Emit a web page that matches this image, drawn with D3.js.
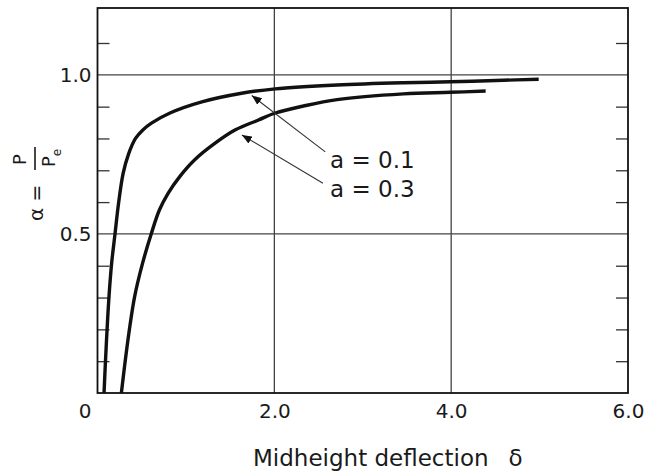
<!DOCTYPE html>
<html>
<head>
<meta charset="utf-8">
<script src="https://cdn.jsdelivr.net/npm/d3@7"></script>
<style>
  body { margin: 0; background: #fff; }
  text { font-family: "DejaVu Sans", sans-serif; fill: #1a1a1a; }
</style>
</head>
<body>
<div id="chart"></div>
<script>
// curve a = 0.1 (midheight deflection vs load ratio)
var delta01 = [0.074, 0.089, 0.108, 0.13, 0.16, 0.198, 0.24, 0.29, 0.35, 0.43, 0.51, 0.61, 0.82, 1.18, 1.63, 2.01, 2.71, 3.46, 3.99, 4.59, 4.99];
var alpha01 = [0, 0.093, 0.198, 0.303, 0.408, 0.50, 0.60, 0.69, 0.75, 0.80, 0.826, 0.848, 0.880, 0.915, 0.942, 0.956, 0.968, 0.975, 0.978, 0.983, 0.986];

// curve a = 0.3
var delta03 = [0.27, 0.31, 0.36, 0.42, 0.51, 0.61, 0.70, 0.80, 0.93, 1.10, 1.33, 1.56, 1.82, 2.01, 2.33, 2.71, 3.46, 3.99, 4.39];
var alpha03 = [0, 0.093, 0.198, 0.303, 0.408, 0.502, 0.575, 0.628, 0.680, 0.733, 0.785, 0.827, 0.858, 0.880, 0.902, 0.922, 0.940, 0.945, 0.949];

var xTicks = [0, 2, 4, 6];
var xTickLabels = ["0", "2.0", "4.0", "6.0"];
var yMajor = [0.5, 1.0];
var yTickLabels = ["0.5", "1.0"];
var yMinor = [0.1, 0.2, 0.3, 0.4, 0.6, 0.7, 0.8, 0.9, 1.1];

// annotation arrows, in data units
var noteLabels = ["a = 0.1", "a = 0.3"];
var noteTips = [[1.745, 0.935], [1.633, 0.811]];
var noteTails = [[2.576, 0.758], [2.55, 0.659]];
var noteText = [[2.63, 0.708], [2.63, 0.617]];

var margin = {top: 8, right: 17, bottom: 80, left: 97.5},
    width = 645 - margin.left - margin.right,
    height = 473 - margin.top - margin.bottom;

var x = d3.scaleLinear().domain([0, 6]).range([0, width]);
var y = d3.scaleLinear().domain([0, 1.21]).range([height, 0]);

var svg = d3.select("#chart").append("svg")
    .attr("width", 645)
    .attr("height", 473);

svg.append("defs").append("marker")
    .attr("id", "arrow")
    .attr("viewBox", "0 0 10 8")
    .attr("refX", 10)
    .attr("refY", 4)
    .attr("markerWidth", 10)
    .attr("markerHeight", 8)
    .attr("markerUnits", "userSpaceOnUse")
    .attr("orient", "auto")
  .append("path")
    .attr("d", "M0,0 L10,4 L0,8 Z")
    .attr("fill", "#111");

var g = svg.append("g")
    .attr("transform", "translate(" + margin.left + "," + margin.top + ")");

// grid lines
g.selectAll(".vgrid")
    .data([2, 4])
  .enter().append("line")
    .attr("x1", function(d) { return x(d); })
    .attr("x2", function(d) { return x(d); })
    .attr("y1", 0)
    .attr("y2", height)
    .attr("stroke", "#333")
    .attr("stroke-width", 1.2);

g.selectAll(".hgrid")
    .data(yMajor)
  .enter().append("line")
    .attr("x1", 0)
    .attr("x2", width)
    .attr("y1", function(d) { return y(d); })
    .attr("y2", function(d) { return y(d); })
    .attr("stroke", "#444")
    .attr("stroke-width", 1.2);

// minor ticks, inside on both sides
var left = g.append("g")
    .call(d3.axisLeft(y).tickValues(yMinor).tickSize(-12).tickFormat(""));
var right = g.append("g")
    .attr("transform", "translate(" + width + ",0)")
    .call(d3.axisRight(y).tickValues(yMinor).tickSize(-12).tickFormat(""));
[left, right].forEach(function(a) {
  a.select(".domain").remove();
  a.selectAll("line").attr("stroke", "#333").attr("stroke-width", 1.3);
});

// y labels
var yLab = g.append("g")
    .call(d3.axisLeft(y).tickValues(yMajor).tickSize(0).tickPadding(6)
      .tickFormat(function(d, i) { return yTickLabels[i]; }));
yLab.select(".domain").remove();
yLab.selectAll("text").attr("font-size", 20).attr("font-family", "DejaVu Sans").attr("fill", "#1a1a1a");

// x labels
var xLab = g.append("g")
    .attr("transform", "translate(0," + height + ")")
    .call(d3.axisBottom(x).tickValues(xTicks).tickSize(0).tickPadding(11)
      .tickFormat(function(d, i) { return xTickLabels[i]; }));
xLab.select(".domain").remove();
xLab.selectAll("text")
    .attr("font-size", 20)
    .attr("font-family", "DejaVu Sans")
    .attr("fill", "#1a1a1a")
    .attr("dx", function(d) { return d === 0 ? -13 : 0; });

// frame
g.append("rect")
    .attr("width", width)
    .attr("height", height)
    .attr("fill", "none")
    .attr("stroke", "#111")
    .attr("stroke-width", 1.8);

// curves
var line = d3.line()
    .x(function(d) { return x(d[0]); })
    .y(function(d) { return y(d[1]); })
    .curve(d3.curveCatmullRom.alpha(0.5));

[[delta01, alpha01], [delta03, alpha03]].forEach(function(s) {
  var data = s[0].map(function(v, i) { return [v, s[1][i]]; });
  g.append("path")
      .datum(data)
      .attr("fill", "none")
      .attr("stroke", "#111")
      .attr("stroke-width", 3.4)
      .attr("d", line);
});

// arrows and labels
noteLabels.forEach(function(lbl, i) {
  g.append("line")
      .attr("x1", x(noteTails[i][0]))
      .attr("y1", y(noteTails[i][1]))
      .attr("x2", x(noteTips[i][0]))
      .attr("y2", y(noteTips[i][1]))
      .attr("stroke", "#333")
      .attr("stroke-width", 1.1)
      .attr("marker-end", "url(#arrow)");
  g.append("text")
      .attr("x", x(noteText[i][0]))
      .attr("y", y(noteText[i][1]))
      .attr("font-size", 23)
      .text(lbl);
});

// axis titles
var title = svg.append("text")
    .attr("x", 253)
    .attr("y", 466)
    .attr("font-size", 23);
title.append("tspan").text("Midheight deflection");
title.append("tspan").attr("dx", 20).text("δ");

var yTitle = svg.append("g")
    .attr("transform", "translate(36,183) rotate(-90)");
yTitle.append("text")
    .attr("x", -38)
    .attr("y", 7)
    .attr("font-size", 20)
    .text("α =");
yTitle.append("line")
    .attr("x1", 13).attr("x2", 36)
    .attr("y1", -1).attr("y2", -1)
    .attr("stroke", "#1a1a1a")
    .attr("stroke-width", 1.6);
yTitle.append("text")
    .attr("x", 18)
    .attr("y", -10)
    .attr("font-size", 18)
    .text("P");
var den = yTitle.append("text")
    .attr("x", 16)
    .attr("y", 19)
    .attr("font-size", 18);
den.append("tspan").text("P");
den.append("tspan").attr("font-size", 12).attr("dy", 6).text("e");
</script>
</body>
</html>
